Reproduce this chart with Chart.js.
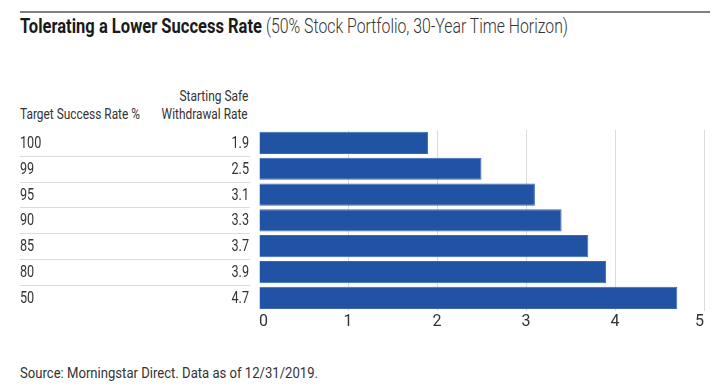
<!DOCTYPE html>
<html>
<head>
<meta charset="utf-8">
<script src="https://cdn.jsdelivr.net/npm/chart.js@4.4.1/dist/chart.umd.min.js"></script>
<style>
html,body{margin:0;padding:0;background:#fff;}
#wrap{position:relative;width:720px;height:391px;overflow:hidden;font-family:Roboto,'Liberation Sans',sans-serif;color:#333;}
#topline{position:absolute;left:20px;top:11px;width:690px;height:2px;background:#808080;}
.t{position:absolute;white-space:nowrap;line-height:20px;}
.l{transform-origin:left center;}
.r{transform-origin:right center;}
canvas{position:absolute;left:0;top:0;}
</style>
</head>
<body>
<div id="wrap">
  <div id="topline"></div>
  <div class="t l fit" data-w="242" style="left:20px;top:16px;font-size:20px;font-weight:700;color:#1a1a1a;">Tolerating a Lower Success Rate</div>
  <div class="t l fit" data-w="302" style="left:266px;top:16px;font-size:20px;font-weight:300;color:#333;">(50% Stock Portfolio, 30-Year Time Horizon)</div>
  <div class="t l fit" data-w="120" style="left:20px;top:104px;font-size:15px;">Target Success Rate %</div>
  <div class="t r fit" data-w="69" style="right:472px;top:86px;font-size:15px;">Starting Safe</div>
  <div class="t r fit" data-w="86" style="right:472px;top:104px;font-size:15px;">Withdrawal Rate</div>
  <div class="t l fit" data-w="298" style="left:20px;top:363px;font-size:15px;">Source: Morningstar Direct. Data as of 12/31/2019.</div>
  <canvas id="c" width="720" height="391"></canvas>
</div>
<script>
// Data
const successRates = ['100', '99', '95', '90', '85', '80', '50'];
const withdrawalLabels = ['1.9', '2.5', '3.1', '3.3', '3.7', '3.9', '4.7'];
const barLengths = [1.9, 2.5, 3.1, 3.4, 3.7, 3.9, 4.7];
const xTickValues = [0, 1, 2, 3, 4, 5];

function fit() {
  document.querySelectorAll('.fit').forEach(el => {
    el.style.transform = 'none';
    const w = el.getBoundingClientRect().width;
    el.style.transform = 'scaleX(' + (+el.dataset.w / w) + ')';
  });
}
fit();

const FONT = 'Roboto, "Liberation Sans", sans-serif';
const CONDENSE = 0.79;

const tablePlugin = {
  id: 'tablePlugin',
  afterDraw(chart) {
    const ctx = chart.ctx;
    const y = chart.scales.y;
    ctx.save();
    ctx.font = '16px ' + FONT;
    ctx.fillStyle = '#333';
    ctx.textBaseline = 'middle';
    const pts = successRates.map((_, i) => y.getPixelForValue(i));
    pts.forEach((py, i) => {
      ctx.save();
      ctx.translate(20, py + 1);
      ctx.scale(CONDENSE, 1);
      ctx.textAlign = 'left';
      ctx.fillText(successRates[i], 0, 0);
      ctx.restore();
      ctx.save();
      ctx.translate(249, py + 1);
      ctx.scale(CONDENSE, 1);
      ctx.textAlign = 'right';
      ctx.fillText(withdrawalLabels[i], 0, 0);
      ctx.restore();
    });
    ctx.strokeStyle = '#dcdcdc';
    ctx.lineWidth = 1;
    for (let i = 0; i < pts.length - 1; i++) {
      const sy = Math.round((pts[i] + pts[i + 1]) / 2) + 0.5;
      ctx.beginPath();
      ctx.moveTo(20, sy);
      ctx.lineTo(250, sy);
      ctx.stroke();
    }
    ctx.restore();
  }
};

new Chart(document.getElementById('c'), {
  type: 'bar',
  data: {
    labels: successRates,
    datasets: [{
      data: barLengths,
      backgroundColor: '#2053a3',
      borderColor: '#3a68b2',
      borderWidth: 1,
      barPercentage: 0.86,
      categoryPercentage: 1
    }]
  },
  options: {
    indexAxis: 'y',
    responsive: false,
    animation: false,
    layout: { padding: { left: 259, right: 16, top: 130, bottom: 57 } },
    plugins: { legend: { display: false }, tooltip: { enabled: false }, title: { display: false } },
    scales: {
      x: {
        min: 0, max: 5,
        z: 1,
        afterBuildTicks: (s) => { s.ticks = xTickValues.map(v => ({ value: v })); },
        grid: {
          color: (c) => (c.tick && c.tick.value === 0) ? 'rgba(0,0,0,0)' : 'rgba(0,0,0,0.14)',
          drawTicks: false,
          lineWidth: 1
        },
        border: { display: false },
        ticks: { align: 'inner', padding: 2, color: '#333', font: { family: FONT, size: 16 } }
      },
      y: { display: false }
    }
  },
  plugins: [tablePlugin]
});
</script>
</body>
</html>
